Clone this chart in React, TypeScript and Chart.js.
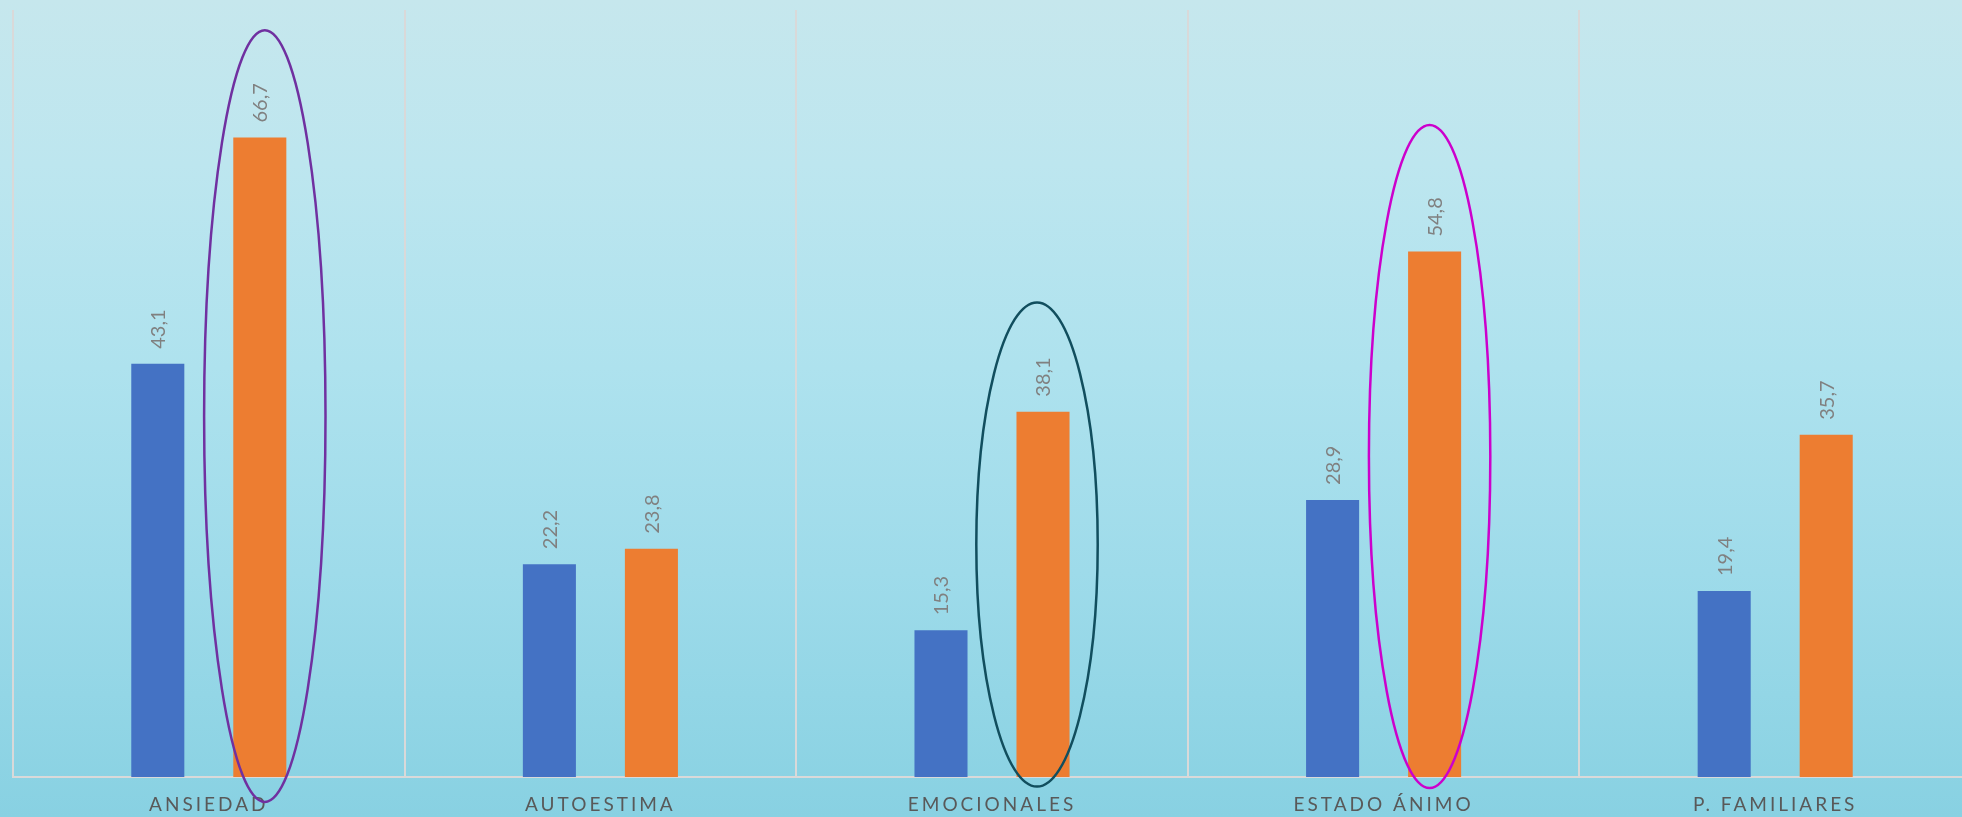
import React, { useEffect, useRef } from "react";
import { Chart, registerables } from "chart.js";

Chart.register(...registerables);

const categories = ["ANSIEDAD", "AUTOESTIMA", "EMOCIONALES", "ESTADO ÁNIMO", "P. FAMILIARES"];
const seriesA = [43.1, 22.2, 15.3, 28.9, 19.4];
const seriesB = [66.7, 23.8, 38.1, 54.8, 35.7];
const seriesAColor = "#4472C4";
const seriesBColor = "#ED7D31";
const yMin = 0;
const yMax = 80;

// highlight ellipses around the orange bars
const highlightCategory = [0, 2, 3];
const highlightTop = [77.9, 49.5, 68.0];
const highlightBottom = [-2.6, -1.0, -1.15];
const highlightColor = ["#7030A0", "#114E5E", "#CC00CC"];
const highlightShiftPx = [5, -6, -5];

const FONT = "Lato, 'Open Sans', sans-serif";

const fmt = (v: number) => v.toFixed(1).replace(".", ",");

const spacingPlugin = {
  id: "tickSpacing",
  beforeDraw(chart: any) {
    chart.ctx.letterSpacing = "3px";
  },
  beforeDatasetsDraw(chart: any) {
    chart.ctx.letterSpacing = "0px";
  },
};

const labelPlugin = {
  id: "valueLabels",
  afterDatasetsDraw(chart: any) {
    const ctx = chart.ctx;
    ctx.save();
    ctx.letterSpacing = "0px";
    ctx.font = `20px ${FONT}`;
    ctx.fillStyle = "#808080";
    ctx.textAlign = "left";
    ctx.textBaseline = "middle";
    chart.data.datasets.forEach((ds: any, di: number) => {
      const meta = chart.getDatasetMeta(di);
      meta.data.forEach((el: any, i: number) => {
        ctx.save();
        ctx.translate(el.x + 1, el.y - 15);
        ctx.rotate(-Math.PI / 2);
        ctx.fillText(fmt(ds.data[i]), 0, 0);
        ctx.restore();
      });
    });
    ctx.restore();
  },
  afterDraw(chart: any) {
    const ctx = chart.ctx;
    const xs = chart.scales.x;
    const ys = chart.scales.y;
    const catW = xs.width / categories.length;
    const meta = chart.getDatasetMeta(1);
    ctx.save();
    highlightCategory.forEach((ci, k) => {
      const el = meta.data[ci];
      const yt = ys.getPixelForValue(highlightTop[k]);
      const yb = ys.getPixelForValue(highlightBottom[k]);
      const cx = el.x + highlightShiftPx[k];
      const cy = (yt + yb) / 2;
      const ry = (yb - yt) / 2;
      const rx = catW * 0.155;
      ctx.beginPath();
      ctx.ellipse(cx, cy, rx, ry, 0, 0, Math.PI * 2);
      ctx.strokeStyle = highlightColor[k];
      ctx.lineWidth = 2.5;
      ctx.stroke();
    });
    ctx.restore();
  },
};

export default function App() {
  const ref = useRef<HTMLCanvasElement | null>(null);
  useEffect(() => {
    if (!ref.current) return;
    const chart = new Chart(ref.current, {
      type: "bar",
      data: {
        labels: categories,
        datasets: [
          {
            label: "A",
            data: seriesA,
            backgroundColor: seriesAColor,
            categoryPercentage: 0.521,
            barPercentage: 0.52,
          },
          {
            label: "B",
            data: seriesB,
            backgroundColor: seriesBColor,
            categoryPercentage: 0.521,
            barPercentage: 0.52,
          },
        ],
      },
      options: {
        responsive: false,
        animation: false,
        layout: { padding: { left: 13, top: 10, right: 0, bottom: 0 } },
        plugins: {
          legend: { display: false },
          tooltip: { enabled: false },
        },
        scales: {
          x: {
            grid: {
              display: true,
              color: "#D9D9D9",
              lineWidth: 2,
              drawTicks: false,
              offset: true,
            },
            border: { display: true, color: "#D9D9D9", width: 2 },
            ticks: {
              color: "#595959",
              font: { family: FONT, size: 19 },
              padding: 16,
              autoSkip: false,
              maxRotation: 0,
              minRotation: 0,
            },
            afterFit(scale: any) {
              scale.height = 40;
            },
          },
          y: {
            display: false,
            min: yMin,
            max: yMax,
          },
        },
      },
      plugins: [spacingPlugin, labelPlugin],
    });
    return () => chart.destroy();
  }, []);

  return (
    <div
      style={{
        position: "fixed",
        left: 0,
        top: 0,
        width: 1962,
        height: 817,
        overflow: "hidden",
        background:
          "linear-gradient(180deg, #c6e7ed 0%, #bde6ef 20%, #aee2ee 45%, #9edbea 70%, #88d1e2 100%)",
      }}
    >
      <canvas ref={ref} width={1971} height={817} style={{ display: "block" }} />
    </div>
  );
}
